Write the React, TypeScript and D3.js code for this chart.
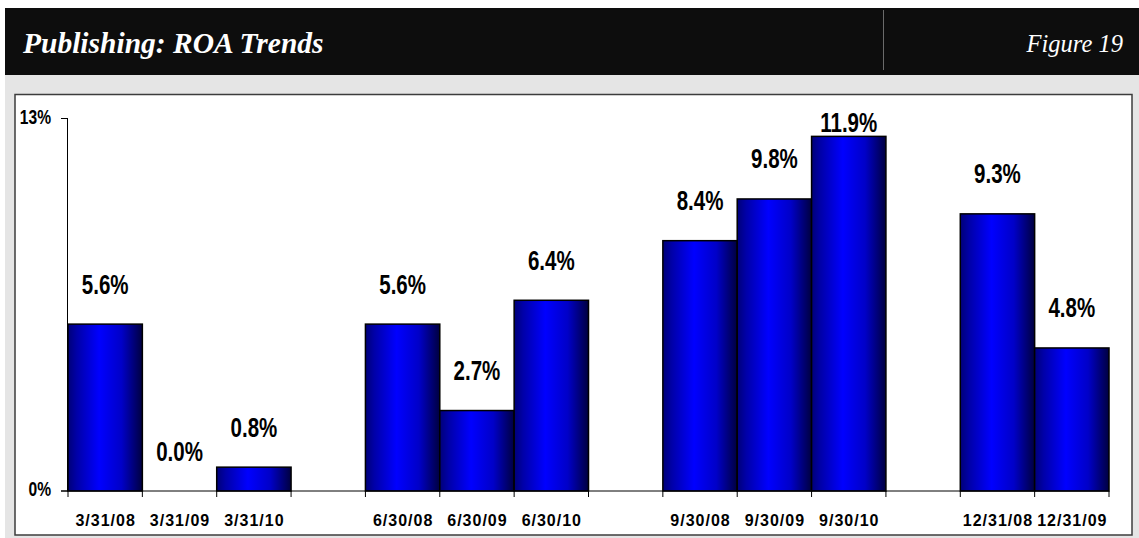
import React from "react";
import * as d3 from "d3";

const title = "Publishing: ROA Trends";
const figureLabel = "Figure 19";
const categories = ["3/31/08", "3/31/09", "3/31/10", "6/30/08", "6/30/09", "6/30/10", "9/30/08", "9/30/09", "9/30/10", "12/31/08", "12/31/09"];
const values = [5.6, 0.0, 0.8, 5.6, 2.7, 6.4, 8.4, 9.8, 11.9, 9.3, 4.8];
const groupEnds = [2, 5, 8]; // a blank slot follows these category indexes
const yTicks = [0, 12.5];
const yTickLabels = ["0%", "13%"];

const W = 1139;
const H = 538;

export default function App() {
  const slots: string[] = [];
  categories.forEach((c, i) => {
    slots.push(c);
    if (groupEnds.includes(i)) slots.push("gap" + i);
  });

  const x = d3.scaleBand<string>().domain(slots).range([68, 1109]).padding(0);
  const y = d3.scaleLinear().domain([0, 12.5]).range([491, 118.5]);
  const fmt = (v: number) => v.toFixed(1) + "%";
  const boundaries = slots.map((s) => x(s) as number).concat([x.range()[1]]);
  const sansFont = "'Liberation Sans', Arial, sans-serif";
  const serifFont = "'Liberation Serif', 'Times New Roman', serif";
  const labelTop = 132;

  return (
    <svg width={W} height={H} style={{ position: "absolute", left: 0, top: 0, display: "block" }}>
      <defs>
        <linearGradient id="barGrad" x1="0" y1="0" x2="1" y2="0">
          <stop offset="0" stopColor="#000078" />
          <stop offset="0.12" stopColor="#0000a8" />
          <stop offset="0.42" stopColor="#0000ff" />
          <stop offset="0.72" stopColor="#0000c8" />
          <stop offset="1" stopColor="#000040" />
        </linearGradient>
      </defs>
      <rect x={0} y={0} width={W} height={H} fill="#ffffff" />
      <rect x={5} y={75} width={W - 5} height={H - 75} fill="#e5e5e5" />
      <rect x={5} y={8} width={W - 5} height={67} fill="#0d0d0d" />
      <line x1={883.5} x2={883.5} y1={10} y2={70} stroke="#6a6a6a" strokeWidth={1} />
      <text x={23} y={53} fill="#ffffff" fontFamily={serifFont} fontWeight="bold" fontStyle="italic" fontSize={29.5}>
        {title}
      </text>
      <text x={1123} y={52} fill="#ffffff" fontFamily={serifFont} fontStyle="italic" fontSize={24.5} textAnchor="end">
        {figureLabel}
      </text>
      <rect x={15} y={94.5} width={1117} height={440.5} fill="#ffffff" stroke="#3c3c3c" strokeWidth={1.5} />

      {/* y axis */}
      <line x1={67.5} x2={67.5} y1={y(12.5)} y2={y(0)} stroke="#000" strokeWidth={1} />
      {yTicks.map((t, i) => (
        <g key={t}>
          <line x1={61} x2={68} y1={y(t)} y2={y(t)} stroke="#000" strokeWidth={1} />
          <text
            transform={`translate(51,${y(t) + 5}) scale(0.78,1)`}
            textAnchor="end"
            fontFamily={sansFont}
            fontWeight="bold"
            fontSize={20}
            fill="#000"
          >
            {yTickLabels[i]}
          </text>
        </g>
      ))}

      {/* bars */}
      {categories.map((c, i) => {
        const v = values[i];
        const x0 = x(c) as number;
        const h = y(0) - y(v);
        return h > 0 ? (
          <rect key={c} x={x0} y={y(v)} width={x.bandwidth()} height={h} fill="url(#barGrad)" stroke="#000" strokeWidth={1.5} />
        ) : null;
      })}

      {/* x axis */}
      <line x1={61} x2={1109} y1={y(0)} y2={y(0)} stroke="#000" strokeWidth={1} />
      {boundaries.map((b, i) => (
        <line key={i} x1={b} x2={b} y1={y(0)} y2={y(0) + 6} stroke="#000" strokeWidth={1} />
      ))}
      {categories.map((c) => (
        <text
          key={c}
          x={(x(c) as number) + x.bandwidth() / 2 + 0.5}
          y={525.5}
          textAnchor="middle"
          fontFamily={sansFont}
          fontWeight="bold"
          fontSize={16}
          letterSpacing={1}
          fill="#000"
        >
          {c}
        </text>
      ))}

      {/* value labels */}
      {categories.map((c, i) => {
        const cx = (x(c) as number) + x.bandwidth() / 2;
        const by = Math.max(y(values[i]) - 30.5, labelTop);
        return (
          <text
            key={c}
            transform={`translate(${cx},${by}) scale(0.76,1)`}
            textAnchor="middle"
            fontFamily={sansFont}
            fontWeight="bold"
            fontSize={27}
            fill="#000"
          >
            {fmt(values[i])}
          </text>
        );
      })}
    </svg>
  );
}
